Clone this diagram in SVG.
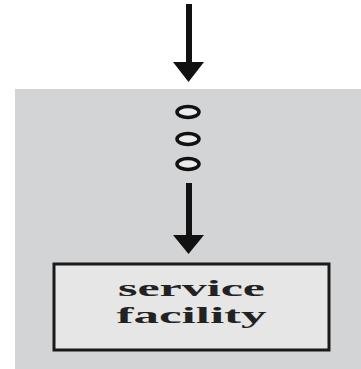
<svg xmlns="http://www.w3.org/2000/svg" width="361" height="369" viewBox="0 0 361 369">
  <style>
    .shaft { stroke: #111; stroke-width: 6; fill: none; }
    .head { fill: #111; }
    .token { fill: #ececec; stroke: #111; stroke-width: 3.5; }
    .box { fill: #e6e6e7; stroke: #1a1a1a; stroke-width: 3; }
    .label { font-family: "Liberation Serif", "Times New Roman", serif; font-weight: bold; font-size: 24px; fill: #222; }
  </style>
  <rect width="361" height="369" fill="#ffffff"/>

  <!-- queue area -->
  <g id="queue">
    <rect x="15" y="89" width="346" height="280" fill="#d3d4d6"/>
    <ellipse class="token" cx="188" cy="112" rx="11" ry="5.5"/>
    <ellipse class="token" cx="188" cy="139" rx="11" ry="5.5"/>
    <ellipse class="token" cx="188" cy="164" rx="11" ry="5.5"/>
  </g>

  <!-- server -->
  <g id="service-facility">
    <rect class="box" x="54" y="264" width="275" height="86"/>
    <text class="label" x="191.5" y="296" text-anchor="middle" textLength="147" lengthAdjust="spacingAndGlyphs">service</text>
    <text class="label" x="191.5" y="323" text-anchor="middle" textLength="150" lengthAdjust="spacingAndGlyphs">facility</text>
  </g>

  <!-- arrows -->
  <g id="connectors">
    <line class="shaft" x1="189" y1="4" x2="189" y2="64"/>
    <polygon class="head" points="173,62 204,62 188.5,82"/>
    <line class="shaft" x1="189" y1="183" x2="189" y2="237"/>
    <polygon class="head" points="173,235 204,235 188.5,254"/>
  </g>
</svg>
